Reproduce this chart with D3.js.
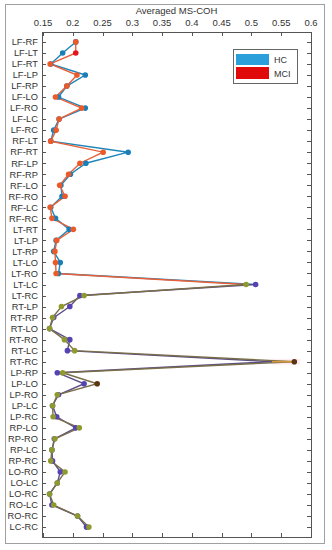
<!DOCTYPE html>
<html>
<head>
<meta charset="utf-8">
<script src="https://d3js.org/d3.v7.min.js"></script>
<style>
 body { margin: 0; background: #fff; }
 text { font-family: "Liberation Sans", Arial, sans-serif; fill: #333; }
</style>
</head>
<body>
<div id="chart"></div>
<script>
// pair labels, top to bottom
var pairs = ["LF-RF","LF-LT","LF-RT","LF-LP","LF-RP","LF-LO","LF-RO","LF-LC","LF-RC",
  "RF-LT","RF-RT","RF-LP","RF-RP","RF-LO","RF-RO","RF-LC","RF-RC",
  "LT-RT","LT-LP","LT-RP","LT-LO","LT-RO","LT-LC","LT-RC",
  "RT-LP","RT-RP","RT-LO","RT-RO","RT-LC","RT-RC",
  "LP-RP","LP-LO","LP-RO","LP-LC","LP-RC",
  "RP-LO","RP-RO","RP-LC","RP-RC",
  "LO-RO","LO-LC","LO-RC",
  "RO-LC","RO-RC",
  "LC-RC"];
var hc = [0.205,0.183,0.163,0.221,0.190,0.176,0.221,0.177,0.168,
  0.163,0.293,0.222,0.196,0.180,0.182,0.163,0.171,
  0.194,0.172,0.168,0.179,0.176,0.507,0.212,
  0.195,0.168,0.161,0.195,0.191,0.535,
  0.174,0.219,0.176,0.166,0.173,
  0.205,0.169,0.165,0.166,
  0.179,0.174,0.161,
  0.165,0.208,
  0.223];
var mci = [0.205,0.205,0.162,0.207,0.190,0.171,0.215,0.177,0.172,
  0.163,0.251,0.212,0.193,0.178,0.187,0.162,0.165,
  0.201,0.173,0.170,0.171,0.172,0.491,0.219,
  0.181,0.166,0.161,0.186,0.203,0.572,
  0.183,0.241,0.174,0.166,0.167,
  0.211,0.170,0.165,0.163,
  0.187,0.174,0.161,
  0.168,0.208,
  0.227];
var xTicks = [0.15,0.2,0.25,0.3,0.35,0.4,0.45,0.5,0.55,0.6];
var highlighted = ["LF-LT","RT-RC","LP-LO"];  // MCI points drawn with a darker marker
var colourBreak = "LT-LC";                     // pair where the line colours switch
var peakPair = "RT-RC";                        // HC and MCI joined by a connector here

var W = 332, H = 550;
var svg = d3.select("#chart").append("svg").attr("width", W).attr("height", H);

// figure frame
svg.append("rect").attr("x", 5.5).attr("y", 4.5).attr("width", 319).attr("height", 539)
  .attr("fill", "none").attr("stroke", "#a0a0a0");

var mL = 42, mR = 311, mT = 32, mB = 537;
var x = d3.scaleLinear().domain([0.15, 0.6]).range([mL + 1, mR]);
var y = d3.scalePoint().domain(pairs).range([mT, mB]).padding(0.9);

// axes box
svg.append("rect").attr("x", mL + 0.5).attr("y", mT + 0.5)
  .attr("width", mR - mL).attr("height", mB - mT)
  .attr("fill", "#fff").attr("stroke", "#555").attr("stroke-width", 1);

// ticks (inward, matlab style)
var tk = svg.append("g").attr("stroke", "#555").attr("stroke-width", 1);
xTicks.forEach(function (t) {
  var px = Math.round(x(t)) + 0.5;
  tk.append("line").attr("x1", px).attr("x2", px).attr("y1", mT).attr("y2", mT + 4);
  tk.append("line").attr("x1", px).attr("x2", px).attr("y1", mB).attr("y2", mB - 4);
});
pairs.forEach(function (p) {
  var py = Math.round(y(p)) + 0.5;
  tk.append("line").attr("x1", mL).attr("x2", mL + 4).attr("y1", py).attr("y2", py);
  tk.append("line").attr("x1", mR).attr("x2", mR - 4).attr("y1", py).attr("y2", py);
});

svg.append("g").selectAll("text").data(xTicks).enter().append("text")
  .attr("x", function (d) { return x(d); }).attr("y", 26)
  .attr("text-anchor", "middle").style("font-size", "9.5px")
  .text(function (d) { return d; });

svg.append("text").attr("x", (mL + mR) / 2).attr("y", 14)
  .attr("text-anchor", "middle").style("font-size", "9.5px").text("Averaged MS-COH");

svg.append("g").selectAll("text").data(pairs).enter().append("text")
  .attr("x", 38).attr("y", function (d) { return y(d) + 3.3; })
  .attr("text-anchor", "end").style("font-size", "9.3px")
  .text(function (d) { return d; });

// series
var brk = pairs.indexOf(colourBreak);
function pts(vals, a, b) {
  return pairs.slice(a, b + 1).map(function (p, i) { return [vals[a + i], p]; });
}
var line = d3.line().x(function (d) { return x(d[0]); }).y(function (d) { return y(d[1]); });

var groups = [
  { vals: hc,  a: 0,   b: brk, line: "#1e86b8", dot: "#1a7fb8" },
  { vals: mci, a: 0,   b: brk, line: "#e8603a", dot: "#ec5a2a" },
  { vals: hc,  a: brk, b: pairs.length - 1, line: "#5b4f86", dot: "#5543b4" },
  { vals: mci, a: brk, b: pairs.length - 1, line: "#7a6e4a", dot: "#8f9a2c" }
];

// faint highlight + connector at the peak pair
var pk = pairs.indexOf(peakPair);
svg.append("rect").attr("x", x(hc[pk])).attr("y", y(peakPair) - 3)
  .attr("width", x(mci[pk]) - x(hc[pk]) + 6).attr("height", 6).attr("fill", "#fdeef5");

groups.forEach(function (g) {
  var d = pts(g.vals, g.a, g.b);
  svg.append("path").datum(d).attr("d", line)
    .attr("fill", "none").attr("stroke", g.line).attr("stroke-width", 1.4);
});
svg.append("line").attr("x1", x(hc[pk])).attr("x2", x(mci[pk]))
  .attr("y1", y(peakPair)).attr("y2", y(peakPair))
  .attr("stroke", "#d79a3a").attr("stroke-width", 1.6);

groups.forEach(function (g) {
  var d = pts(g.vals, g.a, g.b);
  if (g.a === 0) d = d.slice(0, d.length - 1);   // break point belongs to the lower group
  if (g.vals === hc) d = d.filter(function (p) { return p[1] !== peakPair; });
  svg.append("g").selectAll("circle").data(d).enter().append("circle")
    .attr("cx", function (p) { return x(p[0]); })
    .attr("cy", function (p) { return y(p[1]); })
    .attr("r", 2.8)
    .attr("fill", function (p) {
      if (g.vals === mci && highlighted.indexOf(p[1]) >= 0)
        return p[1] === "LF-LT" ? "#e3141c" : "#5b3510";
      return g.dot;
    });
});

// legend
var lg = svg.append("g");
lg.append("rect").attr("x", 233.5).attr("y", 49.5).attr("width", 64).attr("height", 34)
  .attr("fill", "#fff").attr("stroke", "#666");
lg.append("rect").attr("x", 236).attr("y", 54).attr("width", 33).attr("height", 11).attr("fill", "#2b9fd9");
lg.append("rect").attr("x", 236).attr("y", 67).attr("width", 33).attr("height", 12).attr("fill", "#e10a0a");
lg.append("text").attr("x", 274).attr("y", 63).style("font-size", "9px").text("HC");
lg.append("text").attr("x", 274).attr("y", 76.5).style("font-size", "9px").text("MCI");
</script>
</body>
</html>
